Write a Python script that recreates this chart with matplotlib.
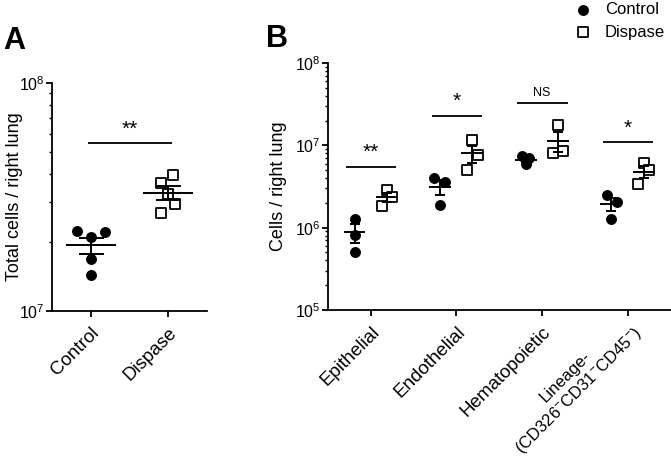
import numpy as np
import matplotlib
matplotlib.use('Agg')
import matplotlib.pyplot as plt
import matplotlib.transforms as mtransforms
from matplotlib.ticker import LogLocator, NullFormatter, FixedLocator

plt.rcParams['font.family'] = ['Liberation Sans', 'DejaVu Sans']
plt.rcParams['mathtext.fontset'] = 'custom'
plt.rcParams['mathtext.rm'] = 'Liberation Sans'
plt.rcParams['mathtext.it'] = 'Liberation Sans:italic'
plt.rcParams['mathtext.bf'] = 'Liberation Sans:bold'

# Panel A: total cells per right lung
groups_a = ['Control', 'Dispase']
total_control = [2.24e7, 2.22e7, 2.11e7, 1.69e7, 1.44e7]
total_dispase = [3.95e7, 3.64e7, 3.26e7, 2.95e7, 2.69e7]
sig_a = '**'
sig_a_y = 5.46e7

# Panel B: cell populations per right lung
cell_types = ['Epithelial', 'Endothelial', 'Hematopoietic',
              'Lineage-\n(CD326$^{-}$CD31$^{-}$CD45$^{-}$)']
control_cells = [[1.29e6, 8.2e5, 5.1e5],
                 [3.96e6, 3.54e6, 1.91e6],
                 [7.35e6, 6.94e6, 5.86e6],
                 [2.46e6, 2.07e6, 1.29e6]]
dispase_cells = [[1.85e6, 2.83e6, 2.39e6],
                 [1.15e7, 7.55e6, 4.96e6],
                 [1.75e7, 8.45e6, 7.98e6],
                 [6.03e6, 4.96e6, 3.35e6]]
sig_b = ['**', '*', 'NS', '*']
sig_b_y = [5.5e6, 2.3e7, 3.25e7, 1.09e7]

# horizontal scatter of points (column scatter layout)
jitter_a_ctrl = [-0.18, 0.18, 0.0, 0.0, 0.0]
jitter_a_disp = [0.065, -0.09, 0.0, 0.09, -0.09]
jitter_b_ctrl = [[0, 0, 0], [-0.07, 0.058, 0], [-0.04, 0.04, 0], [-0.047, 0.07, 0]]
jitter_b_disp = [[-0.058, 0, 0.058], [0, 0.07, -0.058], [0, 0.058, -0.058], [0, 0.058, -0.07]]

XT_SIZE = 13.5
YT_SIZE = 11.5


def sem(v):
    v = np.asarray(v)
    return v.std(ddof=1) / np.sqrt(len(v))


def style_log_axis(ax, lo, hi):
    exps = range(int(np.log10(lo)), int(np.log10(hi)) + 1)
    ax.set_yscale('log')
    ax.set_ylim(lo, hi)
    ax.yaxis.set_major_locator(FixedLocator([10.0 ** e for e in exps]))
    ax.yaxis.set_minor_locator(LogLocator(base=10, subs=np.arange(2, 10)))
    ax.yaxis.set_minor_formatter(NullFormatter())
    ax.set_yticklabels([r'$\mathregular{10^{%d}}$' % e for e in exps])
    for s in ['top', 'right']:
        ax.spines[s].set_visible(False)
    for s in ['left', 'bottom']:
        ax.spines[s].set_linewidth(1.3)
    ax.tick_params(axis='y', which='major', length=4, width=1.3, labelsize=YT_SIZE, pad=1.5)
    ax.tick_params(axis='x', which='major', length=4.3, width=1.3, labelsize=XT_SIZE, pad=5.5)
    ax.tick_params(axis='y', which='minor', length=2.5, width=1.0)
    ax.tick_params(axis='x', which='minor', length=0)


def draw_group(ax, x, vals, jit, filled, half_mean, cap):
    vals = np.asarray(vals)
    xs = x + np.asarray(jit)
    if filled:
        ax.scatter(xs, vals, s=62, color='black', marker='o', zorder=3, linewidths=0)
    else:
        ax.scatter(xs, vals, s=50, facecolor='white', edgecolor='black', marker='s', zorder=3, linewidths=1.3)
    m = vals.mean()
    e = sem(vals)
    ax.hlines(m, x - half_mean, x + half_mean, color='black', lw=1.4, zorder=4)
    ax.errorbar(x, m, yerr=e, fmt='none', ecolor='black', elinewidth=1.4, capsize=cap, capthick=1.4, zorder=4)


fig = plt.figure(figsize=(6.71, 4.66), dpi=100)

# ---- Panel A ----
axA = fig.add_axes([0.0775, 0.3326, 0.231, 0.4893])
style_log_axis(axA, 1e7, 1e8)
draw_group(axA, 0, total_control, jitter_a_ctrl, True, 0.325, 9)
draw_group(axA, 1, total_dispase, jitter_a_disp, False, 0.325, 9)
axA.set_xlim(-0.5, 1.5)
axA.set_xticks([0, 1])
axA.set_xticklabels(groups_a, rotation=45, ha='right', rotation_mode='anchor')
axA.hlines(sig_a_y, -0.04, 1.05, color='black', lw=1.3)
axA.annotate(sig_a, (0.5, sig_a_y), xytext=(0, 10), textcoords='offset points',
             ha='center', va='center', fontsize=15)
axA.set_ylabel('Total cells / right lung', fontsize=13)
axA.yaxis.set_label_coords(-0.19, 0.5)

# ---- Panel B ----
axB = fig.add_axes([0.4888, 0.3348, 0.5105, 0.53])
style_log_axis(axB, 1e5, 1e8)
xb = np.arange(len(cell_types))
for i in range(len(cell_types)):
    draw_group(axB, xb[i] - 0.19, control_cells[i], jitter_b_ctrl[i], True, 0.128, 3.6)
    draw_group(axB, xb[i] + 0.187, dispase_cells[i], jitter_b_disp[i], False, 0.128, 3.6)
    axB.hlines(sig_b_y[i], xb[i] - 0.29, xb[i] + 0.30, color='black', lw=1.3)
    if sig_b[i] == 'NS':
        axB.annotate(sig_b[i], (xb[i], sig_b_y[i]), xytext=(0, 7.5), textcoords='offset points',
                     ha='center', va='center', fontsize=9)
    else:
        axB.annotate(sig_b[i], (xb[i], sig_b_y[i]), xytext=(0, 10), textcoords='offset points',
                     ha='center', va='center', fontsize=15)
axB.set_xlim(-0.5, 3.5)
axB.set_xticks(xb)
axB.set_xticklabels(cell_types, rotation=45, ha='right', rotation_mode='anchor', multialignment='center')
# the two-line label sits centred on its tick, a little smaller
lin = axB.get_xticklabels()[-1]
lin.set_va('center')
lin.set_fontsize(12)
lin.set_transform(lin.get_transform() + mtransforms.ScaledTranslation(4 / 72, 0, fig.dpi_scale_trans))
axB.set_ylabel('Cells / right lung', fontsize=13)
axB.yaxis.set_label_coords(-0.12, 0.5)

# legend
h1 = axB.scatter([], [], s=62, color='black', marker='o', linewidths=0)
h2 = axB.scatter([], [], s=50, facecolor='white', edgecolor='black', marker='s', linewidths=1.3)
fig.legend([h1, h2], ['Control', 'Dispase'], loc='upper left', bbox_to_anchor=(0.847, 1.01),
           frameon=False, fontsize=12, handletextpad=0.8, labelspacing=0.45, borderaxespad=0,
           handlelength=1.0)

# panel letters
fig.text(3 / 671, 1 - 49 / 466, 'A', fontsize=22, fontweight='bold', va='baseline', ha='left')
fig.text(266 / 671, 1 - 47 / 466, 'B', fontsize=22, fontweight='bold', va='baseline', ha='left')

fig.savefig('out.png', dpi=100)
